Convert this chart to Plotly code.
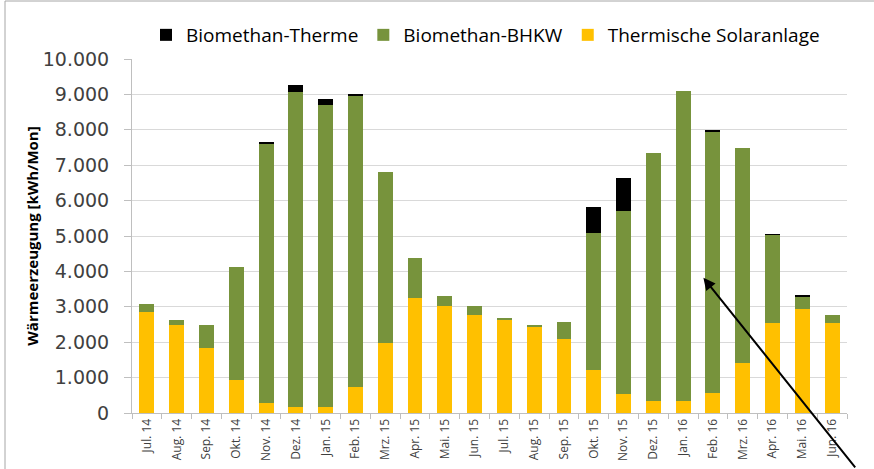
import plotly.graph_objects as go

months = ["Jul. 14", "Aug. 14", "Sep. 14", "Okt. 14", "Nov. 14", "Dez. 14",
          "Jan. 15", "Feb. 15", "Mrz. 15", "Apr. 15", "Mai. 15", "Jun. 15",
          "Jul. 15", "Aug. 15", "Sep. 15", "Okt. 15", "Nov. 15", "Dez. 15",
          "Jan. 16", "Feb. 16", "Mrz. 16", "Apr. 16", "Mai. 16", "Jun. 16"]

solar = [2840, 2490, 1840, 930, 280, 180, 180, 740, 1970, 3260, 3035, 2780,
         2650, 2420, 2090, 1225, 550, 330, 350, 575, 1415, 2530, 2930, 2530]
bhkw = [245, 140, 660, 3195, 7340, 8880, 8520, 8210, 4825, 1105, 283, 255,
        40, 75, 490, 3865, 5165, 7005, 8745, 7380, 6080, 2510, 350, 235]
therme = [0, 0, 0, 0, 20, 208, 180, 57, 0, 0, 0, 0,
          0, 0, 0, 725, 914, 0, 0, 37, 0, 10, 47, 0]

y_ticks = [0, 1000, 2000, 3000, 4000, 5000, 6000, 7000, 8000, 9000, 10000]
y_tick_labels = ["0", "1.000", "2.000", "3.000", "4.000", "5.000",
                 "6.000", "7.000", "8.000", "9.000", "10.000"]

W, H = 874, 469
L, R, T, B = 132, 27, 59, 56
pw, ph = W - L - R, H - T - B

def px_x(x):
    return (x - L) / pw

def px_y(y):
    return (H - B - y) / ph

FONT = "Open Sans"
TXT = "#404040"

fig = go.Figure()
fig.add_trace(go.Bar(x=months, y=solar, name="Thermische Solaranlage",
                     marker=dict(color="#FFC000", line=dict(width=0))))
fig.add_trace(go.Bar(x=months, y=bhkw, name="Biomethan-BHKW",
                     marker=dict(color="#77933C", line=dict(width=0))))
fig.add_trace(go.Bar(x=months, y=therme, name="Biomethan-Therme",
                     marker=dict(color="#000000", line=dict(width=0))))

fig.update_layout(
    width=W, height=H,
    margin=dict(l=L, r=R, t=T, b=B, pad=0, autoexpand=False),
    barmode="stack", bargap=0.5,
    plot_bgcolor="white", paper_bgcolor="white",
    font=dict(family=FONT, color=TXT),
    showlegend=True,
    legend=dict(orientation="h", traceorder="reversed",
                x=px_x(146), xanchor="left", y=px_y(35), yanchor="middle",
                font=dict(family=FONT, size=19, color="#000000"),
                itemwidth=30, bgcolor="rgba(0,0,0,0)"),
    xaxis=dict(type="category", range=[-0.5, len(months) - 0.5],
               tickangle=-90, showgrid=False,
               showline=True, linecolor="#bfbfbf", linewidth=1,
               ticks="outside", tickson="boundaries", ticklen=5, tickcolor="#bfbfbf",
               tickfont=dict(family=FONT, size=12, color=TXT)),
    yaxis=dict(range=[0, 10000], tickvals=y_ticks, ticktext=y_tick_labels,
               showgrid=True, gridcolor="#d9d9d9", gridwidth=1,
               showline=True, linecolor="#bfbfbf", linewidth=1,
               ticks="outside", ticklen=7, tickcolor="#bfbfbf",
               ticklabelstandoff=11, zeroline=False,
               tickfont=dict(family="DejaVu Sans", size=19, color=TXT),
               title=dict(text="<b>Wärmeerzeugung [kWh/Mon]</b>", standoff=0,
                          font=dict(family=FONT, size=15, color="#000000"))),
    shapes=[
        dict(type="line", xref="paper", yref="paper",
             x0=px_x(5), x1=px_x(5), y0=px_y(1), y1=px_y(H + 5),
             line=dict(color="#a6a6a6", width=1)),
        dict(type="line", xref="paper", yref="paper",
             x0=px_x(5), x1=px_x(W + 5), y0=px_y(1), y1=px_y(1),
             line=dict(color="#a6a6a6", width=1)),
    ],
    annotations=[
        dict(x=18.68, y=3820, xref="x", yref="y", text="", showarrow=True,
             ax=153, ay=191, arrowhead=2, arrowsize=1.2, arrowwidth=2,
             arrowcolor="#000000"),
    ],
)

fig.write_html("out.html", config={"displayModeBar": False},
               post_script="document.body.style.margin='0';")
